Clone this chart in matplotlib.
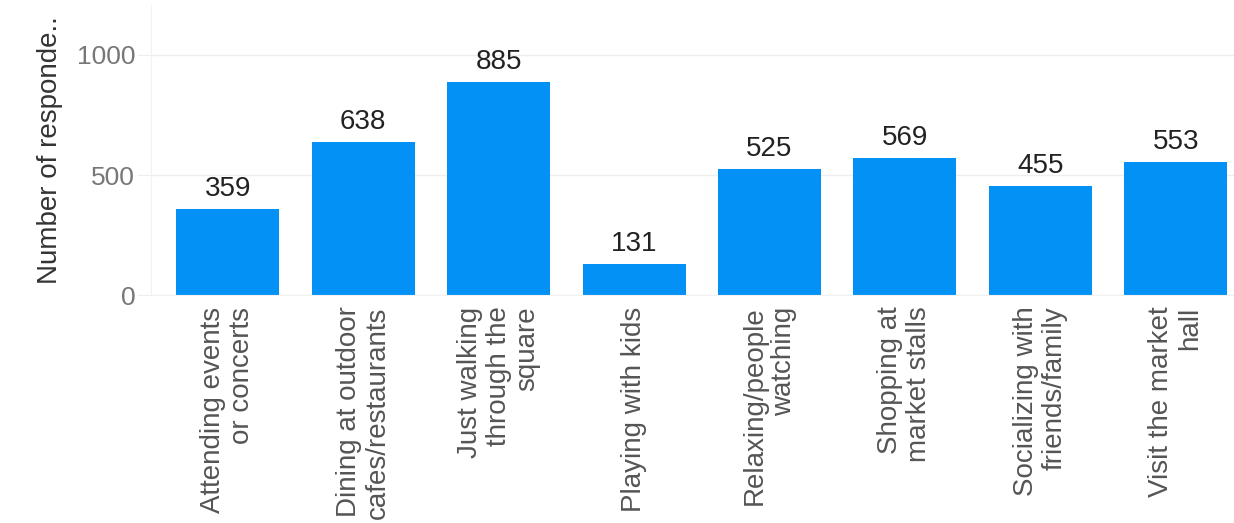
import matplotlib.pyplot as plt
import numpy as np

plt.rcParams['font.family'] = ['Liberation Sans', 'DejaVu Sans']

# Data
categories = ['Attending events\nor concerts', 'Dining at outdoor\ncafes/restaurants',
              'Just walking\nthrough the\nsquare', 'Playing with kids',
              'Relaxing/people\nwatching', 'Shopping at\nmarket stalls',
              'Socializing with\nfriends/family', 'Visit the market\nhall']
counts = [359, 638, 885, 131, 525, 569, 455, 553]
yticks = [0, 500, 1000]

fig = plt.figure(figsize=(12.34, 5.23), dpi=100)
ax = fig.add_axes([0.122, 0.435, 0.878, 0.555])

x = np.arange(len(categories))
ax.bar(x, counts, width=0.76, color='#0391f5', zorder=2)
for xi, v in zip(x, counts):
    ax.text(xi, v + 30, str(v), ha='center', va='bottom', fontsize=20, color='#222222')

ax.set_xlim(-0.57, 7.43)
ax.set_ylim(0, 1205)
ax.set_yticks(yticks)
ax.set_xticks(x)
ax.set_xticklabels(categories, rotation=90, ha='center', va='top',
                   multialignment='right', fontsize=20, color='#555555',
                   linespacing=1.15)
for label in ax.yaxis.get_ticklabels():
    label.set_fontsize(19)
    label.set_color('#777777')

ax.grid(axis='y', color='#eeeeee', linewidth=1, zorder=0)
for s in ['top', 'right']:
    ax.spines[s].set_visible(False)
ax.spines['left'].set_color('#f2f2f2')
ax.spines['bottom'].set_color('#f2f2f2')
ax.tick_params(axis='x', length=0, pad=8)
ax.tick_params(axis='y', length=10, color='#eeeeee', pad=1)

ax.set_ylabel('Number of responde..', fontsize=20, color='#333333', labelpad=10)

fig.savefig('out.png', dpi=100)
